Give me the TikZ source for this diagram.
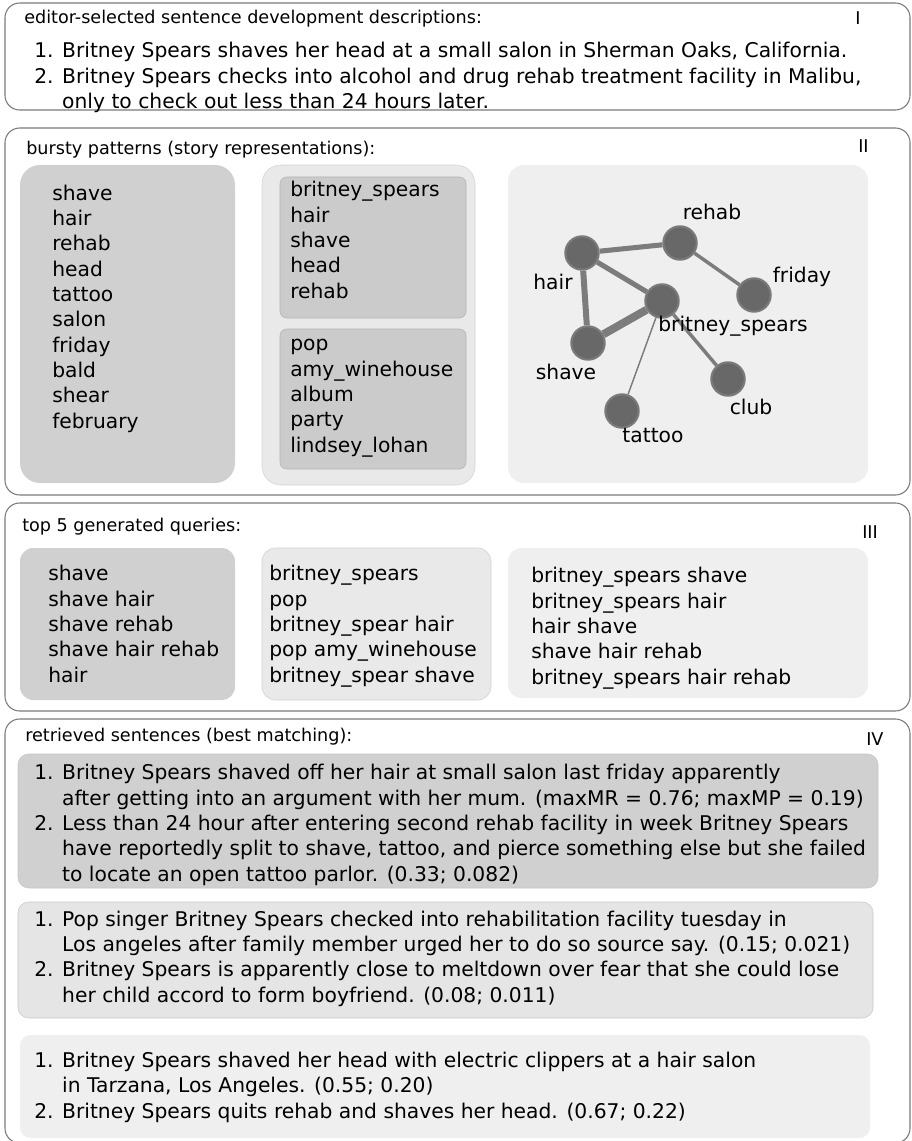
\documentclass[tikz,border=0pt]{standalone}
\usepackage{fontspec}
\setmainfont{DejaVu Sans}
\definecolor{panelline}{HTML}{7A7A7A}
\definecolor{darkbox}{HTML}{D0D0D0}
\definecolor{midbox}{HTML}{E9E9E9}
\definecolor{lightbox}{HTML}{EFEFEF}
\definecolor{innerbox}{HTML}{CBCBCB}
\definecolor{nodefill}{HTML}{686868}
\definecolor{nodeline}{HTML}{7A7A7A}
\definecolor{edgecol}{HTML}{7C7C7C}
\newcommand\titlefont{\fontsize{13.2}{16}\selectfont}
\newcommand\bodyfont{\fontsize{15.2}{19}\selectfont}
\begin{document}
% Multi-line text nodes are placed by the baseline of their last line.
\begin{tikzpicture}[x=0.75pt,y=-0.75pt,
  panel/.style={draw=panelline, line width=0.8pt, rounded corners=11pt},
  heading/.style={anchor=base west, inner sep=0pt, font=\titlefont},
  roman/.style={anchor=base west, inner sep=0pt, font=\titlefont},
  listtext/.style={anchor=base west, inner sep=0pt, font=\bodyfont, align=left},
  word/.style={circle, minimum size=25pt, inner sep=0pt, fill=nodefill, draw=nodeline, line width=1.6pt},
  wordlabel/.style={inner sep=0pt, font=\bodyfont},
  link/.style={draw=edgecol}
]
\useasboundingbox (0,0) rectangle (912,1141);

% ---------- panel I ----------
\draw[panel] (5,3) rectangle (910,110);
\node[heading] (t1) at (24,24) {editor-selected sentence development descriptions:};
\node[roman] (r1) at (855,25) {I};
\node[listtext] (s1) at (34,108.5) {1. Britney Spears shaves her head at a small salon in Sherman Oaks, California.\\
2. Britney Spears checks into alcohol and drug rehab treatment facility in Malibu,\\
\phantom{2. }only to check out less than 24 hours later.};

% ---------- panel II ----------
\draw[panel] (5,128) rectangle (910,495);
\node[heading] (t2) at (26,155) {bursty patterns (story representations):};
\node[roman] (r2) at (858,153) {II};

\fill[darkbox, rounded corners=15pt] (20,165) rectangle (235,483);
\node[listtext] (pa) at (52,428) {shave\\hair\\rehab\\head\\tattoo\\salon\\friday\\bald\\shear\\february};

\draw[fill=midbox, draw=black!17, rounded corners=14pt] (262,165) rectangle (475,485);
\draw[fill=innerbox, draw=black!30, rounded corners=5pt] (280,177) rectangle (466,318);
\draw[fill=innerbox, draw=black!30, rounded corners=5pt] (280,329) rectangle (466,469);
\node[listtext] (pb1) at (290,298) {britney\_spears\\hair\\shave\\head\\rehab};
\node[listtext] (pb2) at (290,452) {pop\\amy\_winehouse\\album\\party\\lindsey\_lohan};

\fill[lightbox, rounded corners=12pt] (508,165) rectangle (868,483);
% word graph
\node[word] (hair) at (582,253) {};
\node[word] (rehab) at (680,243) {};
\node[word] (bs) at (662,301) {};
\node[word] (friday) at (754,295) {};
\node[word] (shave) at (588,343) {};
\node[word] (club) at (728,379) {};
\node[word] (tattoo) at (622,411) {};
\draw[link, line width=3.8pt] (hair) -- (rehab);
\draw[link, line width=3.8pt] (hair) -- (bs);
\draw[link, line width=4.5pt] (hair) -- (shave);
\draw[link, line width=6pt] (shave) -- (bs);
\draw[link, line width=2.6pt] (rehab) -- (friday);
\draw[link, line width=2.6pt] (bs) -- (club);
\draw[link, line width=1.1pt] (bs) -- (tattoo);
\node[wordlabel] (lrehab) at (712,212) {rehab};
\node[wordlabel] (lhair) at (553,282) {hair};
\node[wordlabel] (lfriday) at (802,277) {friday};
\node[wordlabel] (lbs) at (733,326) {britney\_spears};
\node[wordlabel] (lshave) at (566,372) {shave};
\node[wordlabel] (lclub) at (751,407) {club};
\node[wordlabel] (ltattoo) at (653,436) {tattoo};

% ---------- panel III ----------
\draw[panel] (5,503) rectangle (910,711);
\node[heading] (t3) at (22,531) {top 5 generated queries:};
\node[roman] (r3) at (862,538) {III};
\fill[darkbox, rounded corners=10pt] (20,548) rectangle (235,700);
\node[listtext] (q1) at (48,682) {shave\\shave hair\\shave rehab\\shave hair rehab\\hair};
\draw[fill=midbox, draw=black!18, rounded corners=10pt] (262,548) rectangle (491,700);
\node[listtext] (q2) at (269,682) {britney\_spears\\pop\\britney\_spear hair\\pop amy\_winehouse\\britney\_spear shave};
\fill[lightbox, rounded corners=10pt] (508,548) rectangle (868,698);
\node[listtext] (q3) at (531,684) {britney\_spears shave\\britney\_spears hair\\hair shave\\shave hair rehab\\britney\_spears hair rehab};

% ---------- panel IV ----------
\draw[panel] (5,719) rectangle (910,1143);
\node[heading] (t4) at (25,741) {retrieved sentences (best matching):};
\node[roman] (r4) at (866,745) {IV};
\draw[fill=darkbox, draw=black!22, rounded corners=8pt] (18,754) rectangle (878,888);
\node[listtext] (m1) at (34,881) {1. Britney Spears shaved off her hair at small salon last friday apparently\\
\phantom{1. }after getting into an argument with her mum. (maxMR = 0.76; maxMP = 0.19)\\
2. Less than 24 hour after entering second rehab facility in week Britney Spears\\
\phantom{2. }have reportedly split to shave, tattoo, and pierce something else but she failed\\
\phantom{2. }to locate an open tattoo parlor. (0.33; 0.082)};
\draw[fill=black!10, draw=black!22, rounded corners=8pt] (18,902) rectangle (873,1018);
\node[listtext] (m2) at (34,1002) {1. Pop singer Britney Spears checked into rehabilitation facility tuesday in\\
\phantom{1. }Los angeles after family member urged her to do so source say. (0.15; 0.021)\\
2. Britney Spears is apparently close to meltdown over fear that she could lose\\
\phantom{2. }her child accord to form boyfriend. (0.08; 0.011)};
\fill[lightbox, rounded corners=8pt] (20,1035) rectangle (870,1138);
\node[listtext] (m3) at (34,1118) {1. Britney Spears shaved her head with electric clippers at a hair salon\\
\phantom{1. }in Tarzana, Los Angeles. (0.55; 0.20)\\
2. Britney Spears quits rehab and shaves her head. (0.67; 0.22)};
\end{tikzpicture}
\end{document}
